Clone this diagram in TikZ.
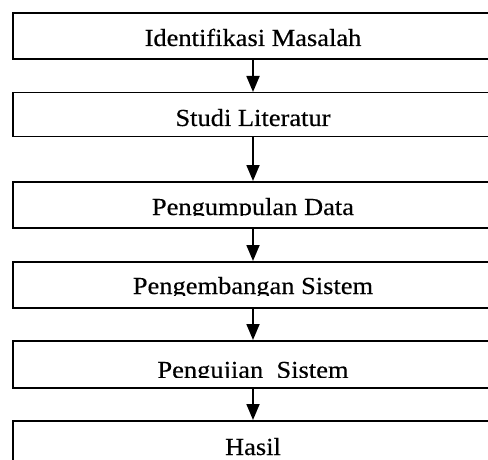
\documentclass[tikz,border=0pt]{standalone}
\usepackage{fontspec}
\setmainfont[FakeStretch=1.08,FakeBold=0.4]{Liberation Serif}
\usetikzlibrary{arrows.meta}
\tikzset{
  x=1pt, y=-1pt,
  stepbox/.style={draw=black, line width=1.5pt, rectangle, inner sep=0pt, minimum width=482pt},
  lbl/.style={anchor=base, inner sep=0pt, font=\fontsize{24.5}{28}\selectfont},
  flow/.style={line width=1.8pt, -{Triangle[width=13pt,length=16pt]}}
}
\begin{document}
\begin{tikzpicture}
\clip (0,0) rectangle (488,460);
\fill[white] (0,0) rectangle (488,460);
% boxes (left 12, right 494)
\node[stepbox, minimum height=46pt, anchor=north west] (b1) at (12,12.5) {};
\node[stepbox, minimum height=44pt, anchor=north west] (b2) at (12,92) {};
\node[stepbox, minimum height=46pt, anchor=north west] (b3) at (12,181) {};
\node[stepbox, minimum height=46pt, anchor=north west] (b4) at (12,261) {};
\node[stepbox, minimum height=47pt, anchor=north west] (b5) at (12,340) {};
\node[stepbox, minimum height=48pt, anchor=north west] (b6) at (12,420) {};
% texts
\node[lbl] (t1) at (253,46) {Identifikasi Masalah};
\node[lbl] (t2) at (253,126) {Studi Literatur};
\begin{scope}
\clip (12,181) rectangle (494,215.5);
\node[lbl] (t3) at (253,215) {Pengumpulan Data};
\end{scope}
\begin{scope}
\clip (12,261) rectangle (494,295.5);
\node[lbl] (t4) at (253,294) {Pengembangan Sistem};
\end{scope}
\begin{scope}
\clip (12,340) rectangle (494,377);
\node[lbl] (t5) at (253,378) {Pengujian\ \ Sistem};
\end{scope}
\node[lbl] (t6) at (253,455) {Hasil};
% arrows
\draw[flow] (b1.south -| t1.base) -- (b2.north -| t1.base);
\draw[flow] (b2.south -| t1.base) -- (b3.north -| t1.base);
\draw[flow] (b3.south -| t1.base) -- (b4.north -| t1.base);
\draw[flow] (b4.south -| t1.base) -- (b5.north -| t1.base);
\draw[flow] (b5.south -| t1.base) -- (b6.north -| t1.base);
\end{tikzpicture}
\end{document}
